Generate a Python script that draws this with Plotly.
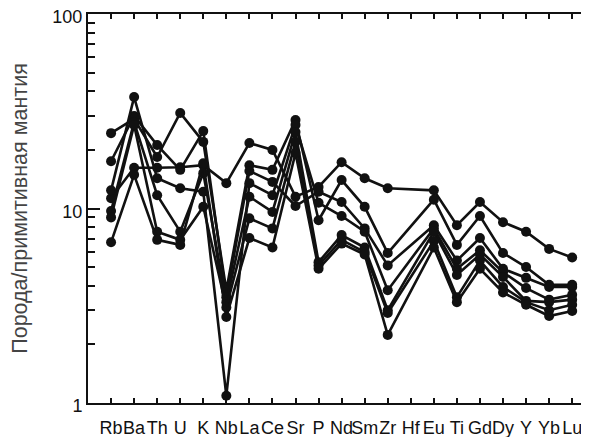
import plotly.graph_objects as go

elements = ["Rb", "Ba", "Th", "U", "K", "Nb", "La", "Ce", "Sr", "P", "Nd",
            "Sm", "Zr", "Hf", "Eu", "Ti", "Gd", "Dy", "Y", "Yb", "Lu"]

# Rock / primitive mantle (Hf not analysed -> None)
s1 = [11.3, 16.2, 16.2, 16.3, 16.7, 13.5, 21.7, 20.0, 11.5, 12.9, 17.3, 14.3, 12.7, None, 12.4, 8.2, 10.8, 8.5, 7.6, 6.2, 5.6]
s2 = [24.4, 28.9, 18.4, 31.0, 22.0, 3.8, 16.7, 15.8, 28.5, 8.7, 14.0, 10.2, 5.9, None, 11.1, 6.5, 9.15, 5.9, 5.0, 4.05, 4.05]
s3 = [17.5, 29.9, 21.2, 15.8, 25.0, 3.5, 15.6, 13.7, 10.3, 12.2, 10.8, 7.9, 5.1, None, 8.2, 5.4, 7.05, 4.9, 4.4, 3.95, 3.95]
s4 = [12.4, 37.4, 14.3, 12.7, 12.2, 1.09, 13.5, 11.7, 26.9, 10.7, 9.15, 7.6, 3.8, None, 7.9, 4.9, 6.1, 4.7, 3.9, 3.4, 3.6]
s5 = [9.7, 27.8, 11.7, 7.6, 15.2, 3.3, 11.5, 9.6, 24.7, 5.3, 7.3, 6.3, 3.0, None, 7.6, 4.55, 5.8, 4.45, 3.35, 3.3, 3.4]
s6 = [9.0, 26.9, 7.6, 6.9, 10.2, 3.1, 8.9, 7.9, 22.0, 5.1, 6.9, 5.97, 2.9, None, 6.8, 3.5, 5.4, 3.95, 3.3, 3.0, 3.2]
s7 = [6.7, 14.9, 6.9, 6.5, 17.1, 2.77, 7.05, 6.3, 19.3, 4.9, 6.6, 5.8, 2.24, None, 6.3, 3.3, 4.9, 3.7, 3.2, 2.8, 2.97]

series = [s1, s2, s3, s4, s5, s6, s7]
xidx = list(range(len(elements)))

fig = go.Figure()
for s in series:
    fig.add_trace(go.Scatter(
        x=xidx, y=s, mode="lines+markers", connectgaps=True,
        line=dict(color="#111111", width=2.6),
        marker=dict(color="#111111", size=10, symbol="circle"),
        showlegend=False, hoverinfo="skip"))

# helper trace for right-side ticks
fig.add_trace(go.Scatter(x=[], y=[], yaxis="y2", showlegend=False))

minor_vals = [2, 3, 4, 5, 6, 7, 8, 9, 20, 30, 40, 50, 60, 70, 80, 90]

fig.update_layout(
    width=589, height=437,
    margin=dict(l=80, r=8, t=6, b=42, autoexpand=False),
    paper_bgcolor="white", plot_bgcolor="white",
    font=dict(family="Liberation Sans, Arial, sans-serif", color="#000000"),
    xaxis=dict(
        range=[-1, 20.73], tickvals=xidx, ticktext=elements, tickangle=0,
        ticks="inside", ticklen=5, tickwidth=2, tickcolor="#111",
        showline=True, linecolor="#111", linewidth=2, mirror="ticks",
        showgrid=False, zeroline=False, automargin=False,
        ticklabeloverflow="allow",
        tickfont=dict(size=18, color="#111"), ticklabelstandoff=7),
    yaxis=dict(
        type="log", range=[0, 2], tickvals=[1, 10, 100], ticktext=["1", "10", "100"],
        ticks="inside", ticklen=12, tickwidth=2, tickcolor="#111",
        minor=dict(tickvals=minor_vals, ticks="inside", ticklen=7, tickwidth=2, tickcolor="#111"),
        showline=True, linecolor="#111", linewidth=2, mirror=False,
        showgrid=False, zeroline=False, automargin=False,
        ticklabeloverflow="allow", ticklabelshift=3,
        tickfont=dict(size=18, color="#111"), ticklabelstandoff=0,
        title=dict(text="Порода/примитивная мантия\u00a0\u00a0", standoff=22,
                   font=dict(size=21.5, color="#444444"))),
    yaxis2=dict(
        type="log", range=[0, 2], overlaying="y", side="right", anchor="x",
        tickvals=[1, 10, 100], ticks="inside", ticklen=6, tickwidth=2, tickcolor="#111",
        showticklabels=False, showline=False, showgrid=False, zeroline=False),
)

fig.write_html("out.html")
